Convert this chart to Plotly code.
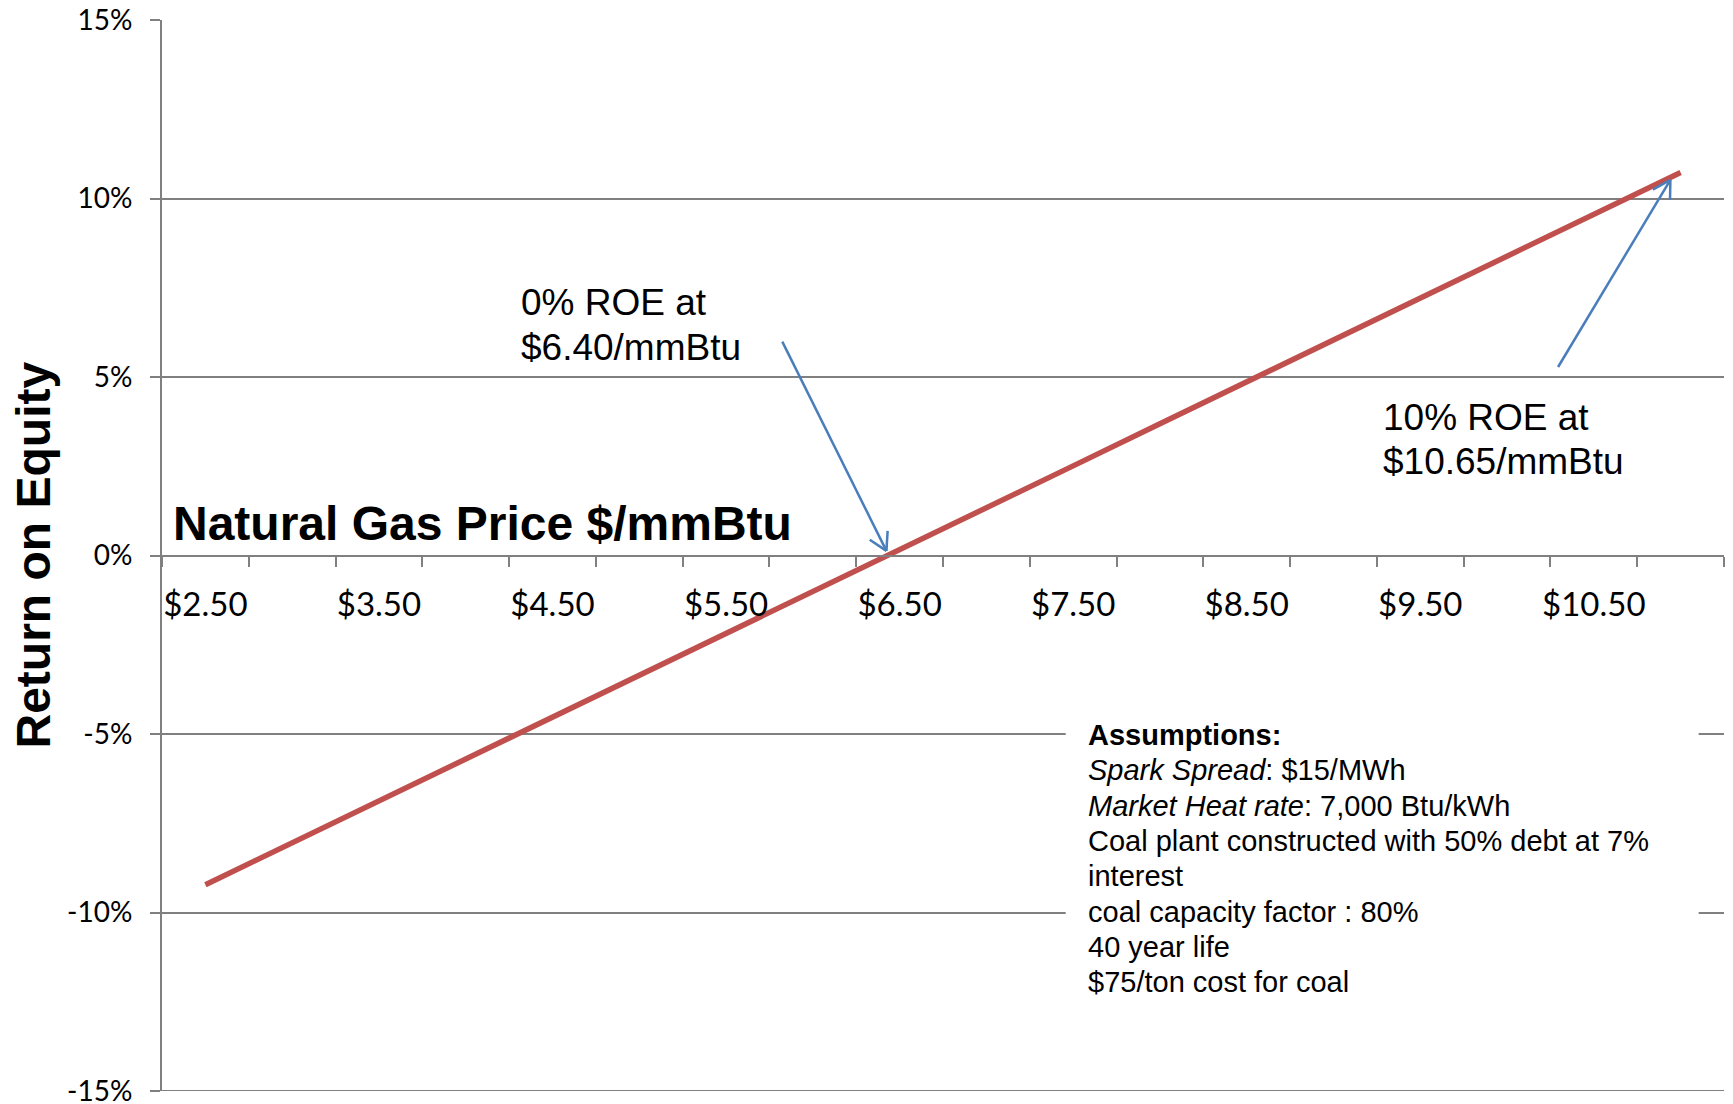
import math
import plotly.graph_objects as go

# ---------------- data ----------------
prices = [2.50, 3.00, 3.50, 4.00, 4.50, 5.00, 5.50, 6.00, 6.50,
          7.00, 7.50, 8.00, 8.50, 9.00, 9.50, 10.00, 10.50, 11.00]
roe_pct = [-9.22, -8.05, -6.87, -5.70, -4.53, -3.35, -2.18, -1.01, 0.17,
           1.34, 2.51, 3.69, 4.86, 6.03, 7.21, 8.38, 9.56, 10.73]

x_tick_vals = [2.5, 3.5, 4.5, 5.5, 6.5, 7.5, 8.5, 9.5, 10.5]
x_tick_text = ["$2.50", "$3.50", "$4.50", "$5.50", "$6.50", "$7.50", "$8.50", "$9.50", "$10.50"]
y_tick_vals = [-15, -10, -5, 0, 5, 10, 15]
y_tick_text = ["-15%", "-10%", "-5%", "0%", "5%", "10%", "15%"]

assumption_lines = [
    "<b>Assumptions:</b>",
    "<i>Spark Spread</i>: $15/MWh",
    "<i>Market Heat rate</i>: 7,000 Btu/kWh",
    "Coal plant constructed with 50% debt at 7%",
    "interest",
    "coal capacity factor : 80%",
    "40 year life",
    "$75/ton cost for coal",
]

# ---------------- layout constants ----------------
W, H = 1733, 1104
ML, MR, MT, MB = 162, 9, 20, 13
XR = [2.25, 11.25]
YR = [-15, 15]
ppx = (W - ML - MR) / (XR[1] - XR[0])
ppy = (H - MT - MB) / (YR[1] - YR[0])

GRID = "#808080"
RED = "#C0504D"
BLUE = "#4A7EBB"
TICKFONT = "Lato, 'Open Sans', sans-serif"
ARIAL = "'Liberation Sans', Arial, sans-serif"

fig = go.Figure()
fig.add_trace(go.Scatter(x=prices, y=roe_pct, mode="lines",
                         line=dict(color=RED, width=5.5), hoverinfo="skip",
                         showlegend=False, cliponaxis=False))


def arrow_shapes(tail, tip, color, head_len=20, head_ang=30):
    dx = (tip[0] - tail[0]) * ppx
    dy = (tip[1] - tail[1]) * ppy
    L = math.hypot(dx, dy)
    ux, uy = -dx / L, -dy / L
    shp = [dict(type="line", xref="x", yref="y", x0=tail[0], y0=tail[1],
                x1=tip[0], y1=tip[1], line=dict(color=color, width=2.5), layer="above")]
    for s in (1, -1):
        a = math.radians(head_ang * s)
        rx = ux * math.cos(a) - uy * math.sin(a)
        ry = ux * math.sin(a) + uy * math.cos(a)
        shp.append(dict(type="line", xref="x", yref="y", x0=tip[0], y0=tip[1],
                        x1=tip[0] + rx * head_len / ppx, y1=tip[1] + ry * head_len / ppy,
                        line=dict(color=color, width=2.5), layer="above"))
    return shp


shapes = []
# bottom gridline (plotly omits the edge gridline)
shapes.append(dict(type="line", xref="paper", yref="y", x0=0, x1=1, y0=YR[0], y1=YR[0],
                   line=dict(color=GRID, width=2), layer="between"))
# white text box hiding gridlines
shapes.append(dict(type="rect", xref="x", yref="y", x0=7.457, x1=11.104, y0=-12.6, y1=-4.05,
                   fillcolor="white", line=dict(width=0), layer="between"))
shapes += arrow_shapes((5.824, 5.99), (6.424, 0.13), BLUE)
shapes += arrow_shapes((10.294, 5.28), (10.941, 10.52), BLUE)

annotations = []


def add_text(x, y, text, size, xanchor="left"):
    annotations.append(dict(x=x, y=y, xref="x", yref="y", text=text, showarrow=False,
                            xanchor=xanchor, yanchor="middle", align="left",
                            font=dict(family=ARIAL, size=size, color="black")))


add_text(4.306, 7.10, "0% ROE at", 37)
add_text(4.306, 5.84, "$6.40/mmBtu", 37)
add_text(9.275, 3.86, "10% ROE at", 37)
add_text(9.275, 2.62, "$10.65/mmBtu", 37)
add_text(2.30, 0.90, "<b>Natural Gas Price $/mmBtu</b>", 48)

for i, line in enumerate(assumption_lines):
    add_text(7.575, -5.03 - 0.99 * i, line, 29)

# y-axis title (rotated)
annotations.append(dict(x=(33 - ML) / (W - ML - MR), y=0.5, xref="paper", yref="paper",
                        text="<b>Return on Equity</b>", showarrow=False, textangle=-90,
                        xanchor="center", yanchor="middle",
                        font=dict(family=ARIAL, size=48, color="black")))

fig.update_layout(
    width=W, height=H,
    margin=dict(l=ML, r=MR, t=MT, b=MB, pad=0, autoexpand=False),
    paper_bgcolor="white", plot_bgcolor="white",
    showlegend=False,
    shapes=shapes,
    annotations=annotations,
    xaxis=dict(
        range=XR, anchor="free", position=0.5,
        showgrid=False, zeroline=False,
        showline=True, linecolor=GRID, linewidth=2,
        tickmode="array", tickvals=x_tick_vals, ticktext=x_tick_text,
        ticks="", ticklabelstandoff=20,
        tickfont=dict(family=TICKFONT, size=33, color="black"),
        minor=dict(tick0=2.25, dtick=0.5, ticks="outside", ticklen=10,
                   tickwidth=2, tickcolor=GRID, showgrid=False),
        automargin=False,
        fixedrange=True,
    ),
    yaxis=dict(
        range=YR, domain=[0, 1],
        showgrid=True, gridcolor=GRID, gridwidth=2, zeroline=False,
        showline=True, linecolor=GRID, linewidth=2,
        tickmode="array", tickvals=y_tick_vals, ticktext=y_tick_text,
        ticks="outside", ticklen=10, tickwidth=2, tickcolor=GRID,
        ticklabelstandoff=12, ticklabeloverflow="allow",
        tickfont=dict(family=TICKFONT, size=28, color="black"),
        automargin=False,
        fixedrange=True,
    ),
)

fig.write_html("out.html", config={"displayModeBar": False},
               post_script="document.body.style.margin='0';document.body.style.overflow='hidden';")
